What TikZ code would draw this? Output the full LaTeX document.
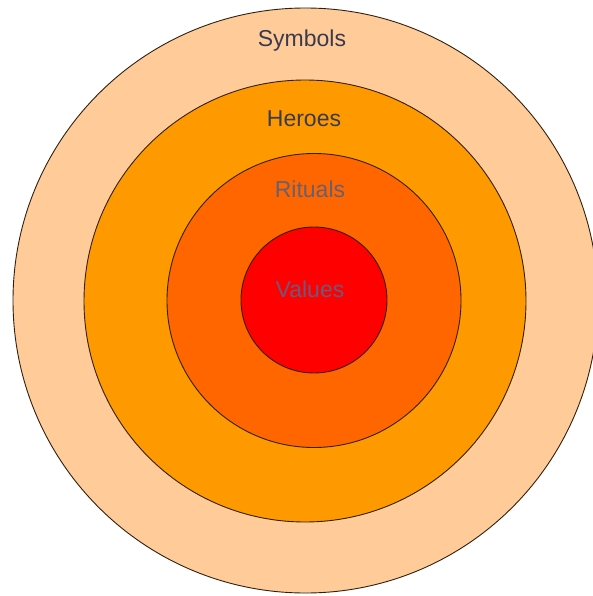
\documentclass[tikz,border=0pt]{standalone}
\usepackage{fontspec}
\setmainfont{Liberation Sans}
\definecolor{symc}{HTML}{FFCC99}
\definecolor{herc}{HTML}{FF9900}
\definecolor{ritc}{HTML}{FF6600}
\definecolor{valc}{HTML}{FF0000}
\definecolor{txtdark}{HTML}{3A3A4E}
\definecolor{txtgray}{HTML}{666070}
\definecolor{txtval}{HTML}{6A5A7E}
\tikzset{
  ring/.style={circle, draw=black!75!brown, line width=0.9pt, inner sep=0pt},
  lbl/.style={font=\fontsize{23}{26}\selectfont, inner sep=0pt}
}
\begin{document}
\begin{tikzpicture}[x=1pt,y=-1pt]
\useasboundingbox (0,0) rectangle (593,596);
\begin{scope}
\clip (0,0) rectangle (593,596);
\node[ring, fill=symc, minimum size=585pt] (symbols) at (305.5,300.5) {};
\node[ring, fill=herc, minimum size=442pt] (heroes) at (305,301) {};
\node[ring, fill=ritc, minimum size=294pt] (rituals) at (314,300.5) {};
\node[ring, fill=valc, minimum size=146pt] (values) at (314,300) {};
\end{scope}
\node[lbl, text=txtdark] (tsym) at (302,41) {Symbols};
\node[lbl, text=txtdark] (ther) at (304,119) {Heroes};
\node[lbl, text=txtgray] (trit) at (310,189) {Rituals};
\node[lbl, text=txtval] (tval) at (310,289) {Values};
\end{tikzpicture}
\end{document}
